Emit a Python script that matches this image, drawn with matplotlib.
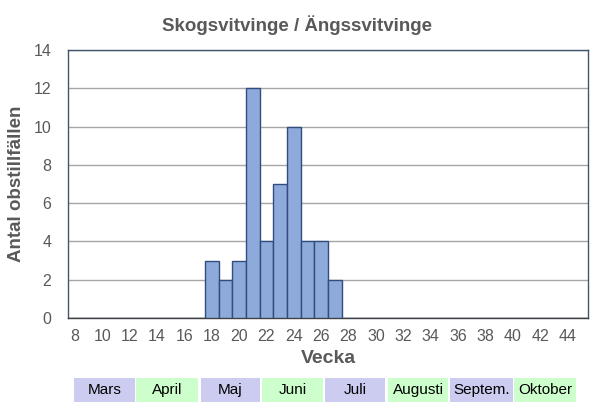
import numpy as np
import matplotlib
matplotlib.use('Agg')
from matplotlib import pyplot as plt
from matplotlib.patches import Rectangle
import matplotlib.transforms as mtransforms

plt.rcParams['font.family'] = ['Liberation Sans', 'DejaVu Sans']

weeks = list(range(8, 46))
obs = {18: 3, 19: 2, 20: 3, 21: 12, 22: 4, 23: 7, 24: 10, 25: 4, 26: 4, 27: 2}
counts = [obs.get(w, 0) for w in weeks]
xticks = list(range(8, 45, 2))
yticks = list(range(0, 15, 2))

months = ['Mars', 'April', 'Maj', 'Juni', 'Juli', 'Augusti', 'Septem.', 'Oktober']
month_start = [7.93, 12.5, 17.2, 21.7, 26.3, 30.85, 35.4, 40.1]
month_end = [12.4, 17.0, 21.55, 26.1, 30.7, 35.3, 40.0, 44.6]

text_col = '#595959'

fig = plt.figure(figsize=(6.1, 4.09), dpi=100)
ax = fig.add_axes([68 / 610, 91 / 409, 520 / 610, 268 / 409])

ax.bar(weeks, counts, width=1.0, color='#8eaadb', edgecolor='#2f4d7e', linewidth=1.0, zorder=3)

ax.set_xlim(7.5, 45.5)
ax.set_ylim(0, 14)
ax.set_xticks(xticks)
ax.set_yticks(yticks)
ax.tick_params(length=0, labelsize=11.5, labelcolor=text_col)
ax.tick_params(axis='y', pad=12)
ax.tick_params(axis='x', pad=8)
ax.yaxis.grid(True, color='#a6a6a6', linewidth=1.0, zorder=0)
for s in ax.spines.values():
    s.set_color('#44546a')
    s.set_linewidth(1.0)
ax.spines['bottom'].set_color('#404040')

fig.text(297 / 610, 1 - 25 / 409, 'Skogsvitvinge / Ängssvitvinge', fontsize=13.5, fontweight='bold',
         color=text_col, ha='center', va='center')
ax.set_xlabel('Vecka', fontsize=14, fontweight='bold', color=text_col, labelpad=4)
ax.set_ylabel('Antal obstillfällen', fontsize=13.5, fontweight='bold', color=text_col, labelpad=6)

trans = mtransforms.blended_transform_factory(ax.transData, ax.transAxes)
y0 = (318 - 402) / 268
h = 24 / 268
for i, m in enumerate(months):
    fc = '#ccccf0' if i % 2 == 0 else '#ccffcc'
    ax.add_patch(Rectangle((month_start[i], y0), month_end[i] - month_start[i], h,
                           transform=trans, facecolor=fc, edgecolor='none', clip_on=False))
    ax.text((month_start[i] + month_end[i]) / 2, y0 + h / 2, m, transform=trans,
            ha='center', va='center', fontsize=11, color='black')

fig.savefig('out.png', dpi=100)
